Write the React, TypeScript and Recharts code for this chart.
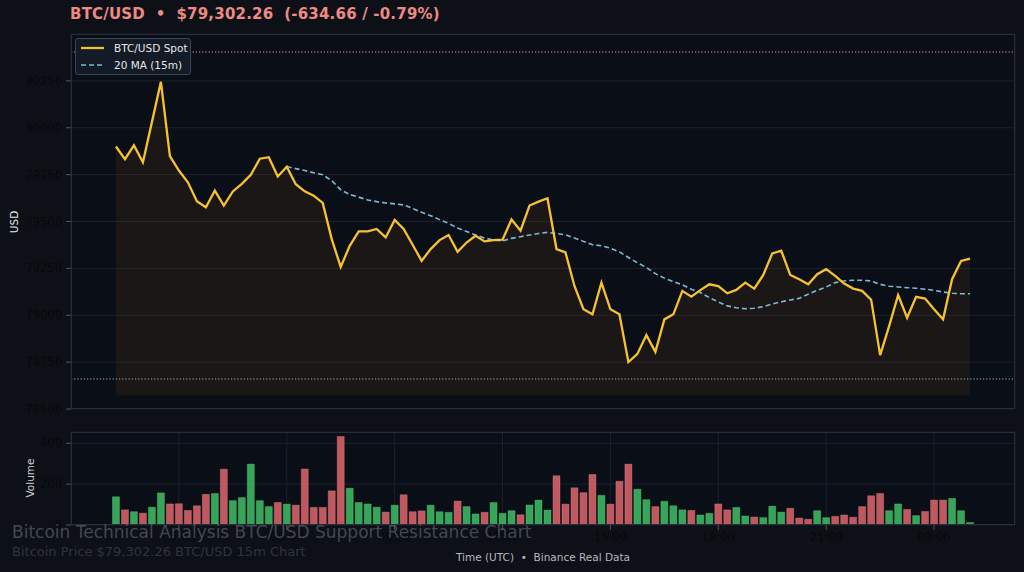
import React from "react";
import {
  ComposedChart,
  Line,
  Area,
  Bar,
  Cell,
  XAxis,
  YAxis,
  CartesianGrid,
  ReferenceLine,
} from "recharts";

// ---- data ----
const startHour = 1.25; // first candle 01:15 UTC
const stepHour = 0.25; // 15m candles

const prices = [
  79900, 79832, 79906, 79816, 80030, 80245, 79849, 79772, 79709, 79608,
  79576, 79665, 79585, 79660, 79701, 79749, 79835, 79843, 79740, 79792,
  79699, 79661, 79638, 79599, 79406, 79258, 79370, 79447, 79447, 79460,
  79415, 79508, 79460, 79376, 79290, 79353, 79401, 79428, 79338, 79388,
  79424, 79394, 79401, 79403, 79511, 79451, 79585, 79606, 79624, 79353,
  79335, 79156, 79032, 79005, 79174, 79032, 79005, 78750, 78794, 78894,
  78805, 78978, 79005, 79130, 79099, 79134, 79165, 79156, 79117, 79135,
  79174, 79142, 79215, 79330, 79344, 79215, 79192, 79165, 79219, 79246,
  79210, 79169, 79142, 79130, 79083, 78787, 78942, 79108, 78987, 79098,
  79089, 79032, 78978, 79192, 79290, 79302,
];

const ma20 = [
  null, null, null, null, null, null, null, null, null, null,
  null, null, null, null, null, null, null, null, null, 79793,
  79782, 79772, 79760, 79749, 79718, 79669, 79644, 79630, 79615, 79606,
  79599, 79594, 79588, 79570, 79549, 79531, 79510, 79490, 79465, 79447,
  79428, 79412, 79401, 79397, 79410, 79419, 79428, 79436, 79442, 79436,
  79429, 79412, 79394, 79376, 79371, 79358, 79338, 79308, 79280, 79255,
  79222, 79198, 79180, 79162, 79139, 79121, 79094, 79071, 79050, 79040,
  79035, 79037, 79046, 79060, 79072, 79081, 79090, 79112, 79133, 79151,
  79174, 79183, 79187, 79187, 79183, 79165, 79155, 79151, 79147, 79144,
  79139, 79133, 79124, 79117, 79115, 79115,
];

const volumes = [
  138, 74, 65, 58, 87, 157, 103, 104, 71, 94,
  150, 154, 273, 119, 134, 298, 119, 90, 110, 102,
  97, 274, 86, 86, 167, 433, 180, 110, 103, 87,
  63, 97, 148, 65, 69, 97, 65, 62, 117, 90,
  54, 62, 110, 57, 70, 50, 98, 122, 73, 241,
  102, 182, 158, 247, 145, 102, 214, 298, 175, 124,
  90, 116, 94, 74, 71, 49, 57, 103, 74, 86,
  44, 39, 36, 92, 63, 82, 34, 28, 70, 36,
  42, 49, 38, 90, 143, 154, 70, 103, 76, 46,
  66, 122, 122, 130, 70, 12,
];

const resistance = 80404;
const support = 78660;
const fillBase = 78572;

const priceTicks = [78500, 78750, 79000, 79250, 79500, 79750, 80000, 80250];
const volumeTicks = [0, 200, 400];
const timeTickHours = [3, 6, 9, 12, 15, 18, 21, 24];
const timeTickLabels = ["03:00", "06:00", "09:00", "12:00", "15:00", "18:00", "21:00", "00:00"];

const rows = prices.map((p, i) => ({
  t: startHour + i * stepHour,
  price: p,
  ma: ma20[i],
  vol: volumes[i],
  up: i === 0 ? true : p >= prices[i - 1],
}));

// ---- styles ----
const FONT = "'DejaVu Sans', sans-serif";
const FIG_BG = "#0d1117";
const PLOT_BG = "#0a0e16";
const GRID = "#1f2733";
const SPINE = "#262d38";
const TICK_TEXT = "#07080b";
const TICK_LINE = "#4e5563";
const GOLD = "#f7c230";
const MA_BLUE = "#7db9d9";
const GREEN = "#3dbb63";
const RED = "#d8636a";

const fmtTime = (v: number) => {
  const idx = timeTickHours.indexOf(v);
  return idx >= 0 ? timeTickLabels[idx] : "";
};

export default function App() {
  return (
    <div
      style={{
        position: "absolute",
        left: 0,
        top: 0,
        width: 1024,
        height: 572,
        background: FIG_BG,
        fontFamily: FONT,
        overflow: "hidden",
      }}
    >
      {/* Title */}
      <div
        style={{
          position: "absolute",
          left: 70,
          top: 5,
          fontSize: 15,
          fontWeight: "bold",
          color: "#ee8a84",
          whiteSpace: "pre",
          letterSpacing: 0.2,
        }}
      >
        {"BTC/USD  •  $79,302.26  (-634.66 / -0.79%)"}
      </div>

      {/* Main price chart */}
      <div style={{ position: "absolute", left: 0, top: 0 }}>
        <ComposedChart
          width={1024}
          height={420}
          data={rows}
          margin={{ top: 34, right: 9, bottom: 11, left: 11 }}
        >
          <CartesianGrid stroke={GRID} strokeWidth={0.8} fill={PLOT_BG} />
          <XAxis
            dataKey="t"
            type="number"
            domain={[0, 26.25]}
            ticks={timeTickHours}
            tick={false}
            tickLine={false}
            axisLine={false}
            height={0}
            allowDataOverflow
          />
          <YAxis
            type="number"
            domain={[78500, 80500]}
            ticks={priceTicks}
            width={60}
            tickSize={5}
            tickMargin={4}
            axisLine={false}
            tickLine={{ stroke: TICK_LINE }}
            tick={{ fill: TICK_TEXT, fontSize: 11.5, fontFamily: FONT }}
            allowDataOverflow
          />
          <ReferenceLine y={resistance} stroke="#e89a9a" strokeDasharray="1.2 2" strokeWidth={1} />
          <ReferenceLine y={support} stroke="#7fd39a" strokeDasharray="1.2 2" strokeWidth={1} />
          <Area
            dataKey="price"
            type="linear"
            baseValue={fillBase}
            stroke="none"
            fill="#f7931a"
            fillOpacity={0.07}
            isAnimationActive={false}
            dot={false}
            activeDot={false}
          />
          <Line
            dataKey="ma"
            type="linear"
            stroke={MA_BLUE}
            strokeWidth={1.6}
            strokeDasharray="5 3"
            dot={false}
            activeDot={false}
            connectNulls={false}
            isAnimationActive={false}
          />
          <Line
            dataKey="price"
            type="linear"
            stroke={GOLD}
            strokeWidth={2.3}
            dot={false}
            activeDot={false}
            isAnimationActive={false}
          />
        </ComposedChart>
      </div>

      {/* Volume chart */}
      <div style={{ position: "absolute", left: 0, top: 420 }}>
        <ComposedChart
          width={1024}
          height={152}
          data={rows}
          margin={{ top: 12, right: 9, bottom: 17, left: 11 }}
        >
          <CartesianGrid stroke={GRID} strokeWidth={0.8} fill={PLOT_BG} />
          <XAxis
            dataKey="t"
            type="number"
            domain={[0, 26.25]}
            ticks={timeTickHours}
            tickFormatter={fmtTime}
            height={30}
            tickSize={5}
            tickMargin={3}
            axisLine={false}
            tickLine={{ stroke: TICK_LINE }}
            tick={{ fill: TICK_TEXT, fontSize: 11.5, fontFamily: FONT }}
            allowDataOverflow
          />
          <YAxis
            type="number"
            domain={[0, 455]}
            ticks={volumeTicks}
            width={60}
            tickSize={5}
            tickMargin={4}
            axisLine={false}
            tickLine={{ stroke: TICK_LINE }}
            tick={{ fill: TICK_TEXT, fontSize: 11.5, fontFamily: FONT }}
            allowDataOverflow
          />
          <Bar dataKey="vol" barSize={7} isAnimationActive={false}>
            {rows.map((r, i) => (
              <Cell
                key={i}
                fill={r.up ? GREEN : RED}
                fillOpacity={0.88}
                stroke={r.up ? "#5fd07f" : "#e88a8f"}
                strokeOpacity={0.6}
                strokeWidth={0.6}
              />
            ))}
          </Bar>
        </ComposedChart>
      </div>

      {/* Plot frames */}
      <div
        style={{
          position: "absolute",
          left: 71,
          top: 34,
          width: 944,
          height: 375,
          border: `1px solid ${SPINE}`,
          boxSizing: "border-box",
          pointerEvents: "none",
        }}
      />
      <div
        style={{
          position: "absolute",
          left: 71,
          top: 432,
          width: 944,
          height: 93,
          border: `1px solid ${SPINE}`,
          boxSizing: "border-box",
          pointerEvents: "none",
        }}
      />

      {/* Legend */}
      <div
        style={{
          position: "absolute",
          left: 75,
          top: 38,
          width: 116,
          height: 37,
          background: "#131b27",
          border: "1px solid #3a4556",
          borderRadius: 3,
          boxSizing: "border-box",
          fontSize: 10.5,
          color: "#e6e6e6",
        }}
      >
        <div style={{ position: "absolute", left: 5, top: 3, display: "flex", alignItems: "center" }}>
          <svg width={24} height={10}>
            <line x1={0} y1={5} x2={23} y2={5} stroke={GOLD} strokeWidth={2.3} />
          </svg>
          <span style={{ marginLeft: 9 }}>BTC/USD Spot</span>
        </div>
        <div style={{ position: "absolute", left: 5, top: 20, display: "flex", alignItems: "center" }}>
          <svg width={24} height={10}>
            <line x1={0} y1={5} x2={23} y2={5} stroke={MA_BLUE} strokeWidth={1.6} strokeDasharray="5 3" />
          </svg>
          <span style={{ marginLeft: 9 }}>20 MA (15m)</span>
        </div>
      </div>

      {/* Axis labels */}
      <div
        style={{
          position: "absolute",
          left: 14,
          top: 222,
          transform: "translate(-50%, -50%) rotate(-90deg)",
          fontSize: 10.5,
          color: "#e6e6e6",
        }}
      >
        USD
      </div>
      <div
        style={{
          position: "absolute",
          left: 30,
          top: 478,
          transform: "translate(-50%, -50%) rotate(-90deg)",
          fontSize: 10.5,
          color: "#cfcfcf",
          whiteSpace: "nowrap",
        }}
      >
        Volume
      </div>
      <div
        style={{
          position: "absolute",
          left: 543,
          top: 557,
          transform: "translate(-50%, -50%)",
          fontSize: 10.5,
          color: "#b5b8bd",
          whiteSpace: "pre",
        }}
      >
        {"Time (UTC)  •  Binance Real Data"}
      </div>

      {/* Watermark */}
      <div
        style={{
          position: "absolute",
          left: 12,
          top: 522,
          fontSize: 17,
          color: "rgba(120,128,140,0.5)",
          whiteSpace: "nowrap",
        }}
      >
        Bitcoin Technical Analysis BTC/USD Support Resistance Chart
      </div>
      <div
        style={{
          position: "absolute",
          left: 12,
          top: 544,
          fontSize: 13,
          color: "rgba(90,98,110,0.45)",
          whiteSpace: "nowrap",
        }}
      >
        Bitcoin Price $79,302.26 BTC/USD 15m Chart
      </div>
    </div>
  );
}
